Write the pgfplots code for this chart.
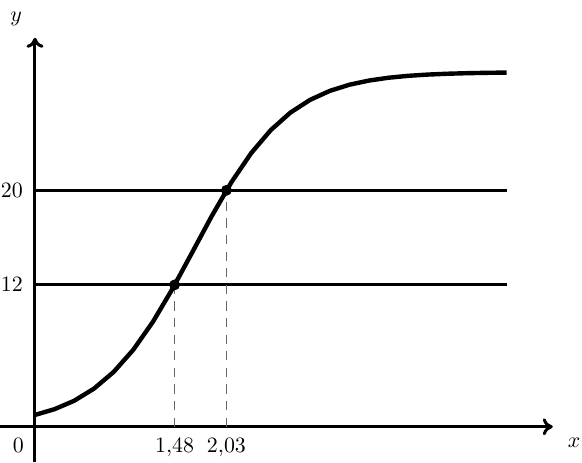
\documentclass[11pt,border=0pt]{standalone}
\usepackage{pgfplots}
\usetikzlibrary{arrows.meta}
\pgfplotsset{compat=1.18}
\begin{document}
\begin{tikzpicture}
\begin{axis}[
    x=47.15pt, y=5.91pt,
    axis lines=middle,
    axis line style={line width=1.5pt, -{To[length=5pt,width=8.5pt]}},
    xmin=-0.37, xmax=5.49,
    ymin=-3, ymax=32.9,
    xtick={1.48,2.03},
    xticklabels={$1{,}48$,$2{,}03$},
    ytick={12,20},
    major tick length=0pt,
    xticklabel style={yshift=-1.8pt},
    yticklabel style={xshift=-2.2pt},
    clip=false,
]
% logistic curve, sampled at 25 points
\addplot[black, line width=2.2pt] coordinates {
    (0,1.000) (0.20833,1.491) (0.41667,2.205) (0.625,3.223) (0.83333,4.631)
    (1.04167,6.506) (1.25,8.874) (1.45833,11.676) (1.66667,14.745) (1.875,17.836)
    (2.08333,20.695) (2.29167,23.141) (2.5,25.096) (2.70833,26.577) (2.91667,27.652)
    (3.125,28.410) (3.33333,28.932) (3.54167,29.287) (3.75,29.526) (3.95833,29.686)
    (4.16667,29.792) (4.375,29.863) (4.58333,29.909) (4.79167,29.940) (5,29.961)
};
% horizontal levels
\addplot[black, line width=1.5pt] coordinates {(0,12) (5,12)};
\addplot[black, line width=1.5pt] coordinates {(0,20) (5,20)};
% dashed guides
\addplot[black!60, line width=0.9pt, dash pattern=on 4.6pt off 3.7pt] coordinates {(1.48,0) (1.48,12)};
\addplot[black!60, line width=0.9pt, dash pattern=on 4.6pt off 3.7pt] coordinates {(2.03,0) (2.03,20)};
% intersection points
\addplot[only marks, mark=*, mark size=2.5pt, black] coordinates {(1.48,12) (2.03,20)};
% axis names and origin
\node at (axis cs:-0.20,34.5) {$y$};
\node at (axis cs:5.716,-1.34) {$x$};
\node at (axis cs:-0.177,-1.62) {$0$};
\coordinate (bl) at (axis cs:-0.371,-2.99);
\coordinate (tr) at (axis cs:5.80,36.1);
\end{axis}
\pgfresetboundingbox
\path[use as bounding box] (bl) rectangle (tr);
\end{tikzpicture}
\end{document}
